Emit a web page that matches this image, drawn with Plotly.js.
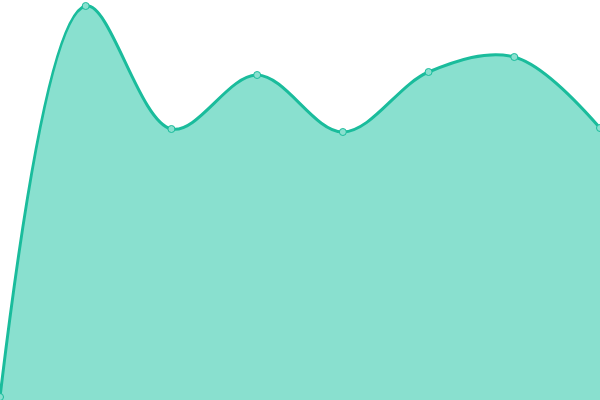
<!DOCTYPE html>
<html>
<head>
<meta charset="utf-8">
<script src="https://cdn.plot.ly/plotly-3.0.1.min.js"></script>
<style>
  html, body { margin: 0; padding: 0; background: #fff; }
  #chart { width: 600px; height: 400px; }
</style>
</head>
<body>
<div id="chart"></div>
<script>
let xVals = [0, 1, 2, 3, 4, 5, 6, 7];
let yVals = [3, 394, 271, 325, 268, 328, 343, 272];

let trace1 = {
    x: xVals,
    y: yVals,
    type: 'scatter',
    mode: 'lines+markers',
    fill: 'tozeroy',
    fillcolor: '#89e0cf',
    line: { shape: 'spline', smoothing: 1, color: '#1abc9c', width: 3 },
    marker: { size: 7, color: '#89e0cf', line: { color: '#1abc9c', width: 1 } },
    hoverinfo: 'none'
};

let layout = {
    width: 600,
    height: 400,
    margin: { l: 0, r: 0, t: 0, b: 0 },
    paper_bgcolor: '#fff',
    plot_bgcolor: '#fff',
    showlegend: false,
    xaxis: { range: [0, 7], visible: false, fixedrange: true },
    yaxis: { range: [0, 400], visible: false, fixedrange: true }
};

Plotly.newPlot('chart', [trace1], layout, { displayModeBar: false, staticPlot: true });
</script>
</body>
</html>
